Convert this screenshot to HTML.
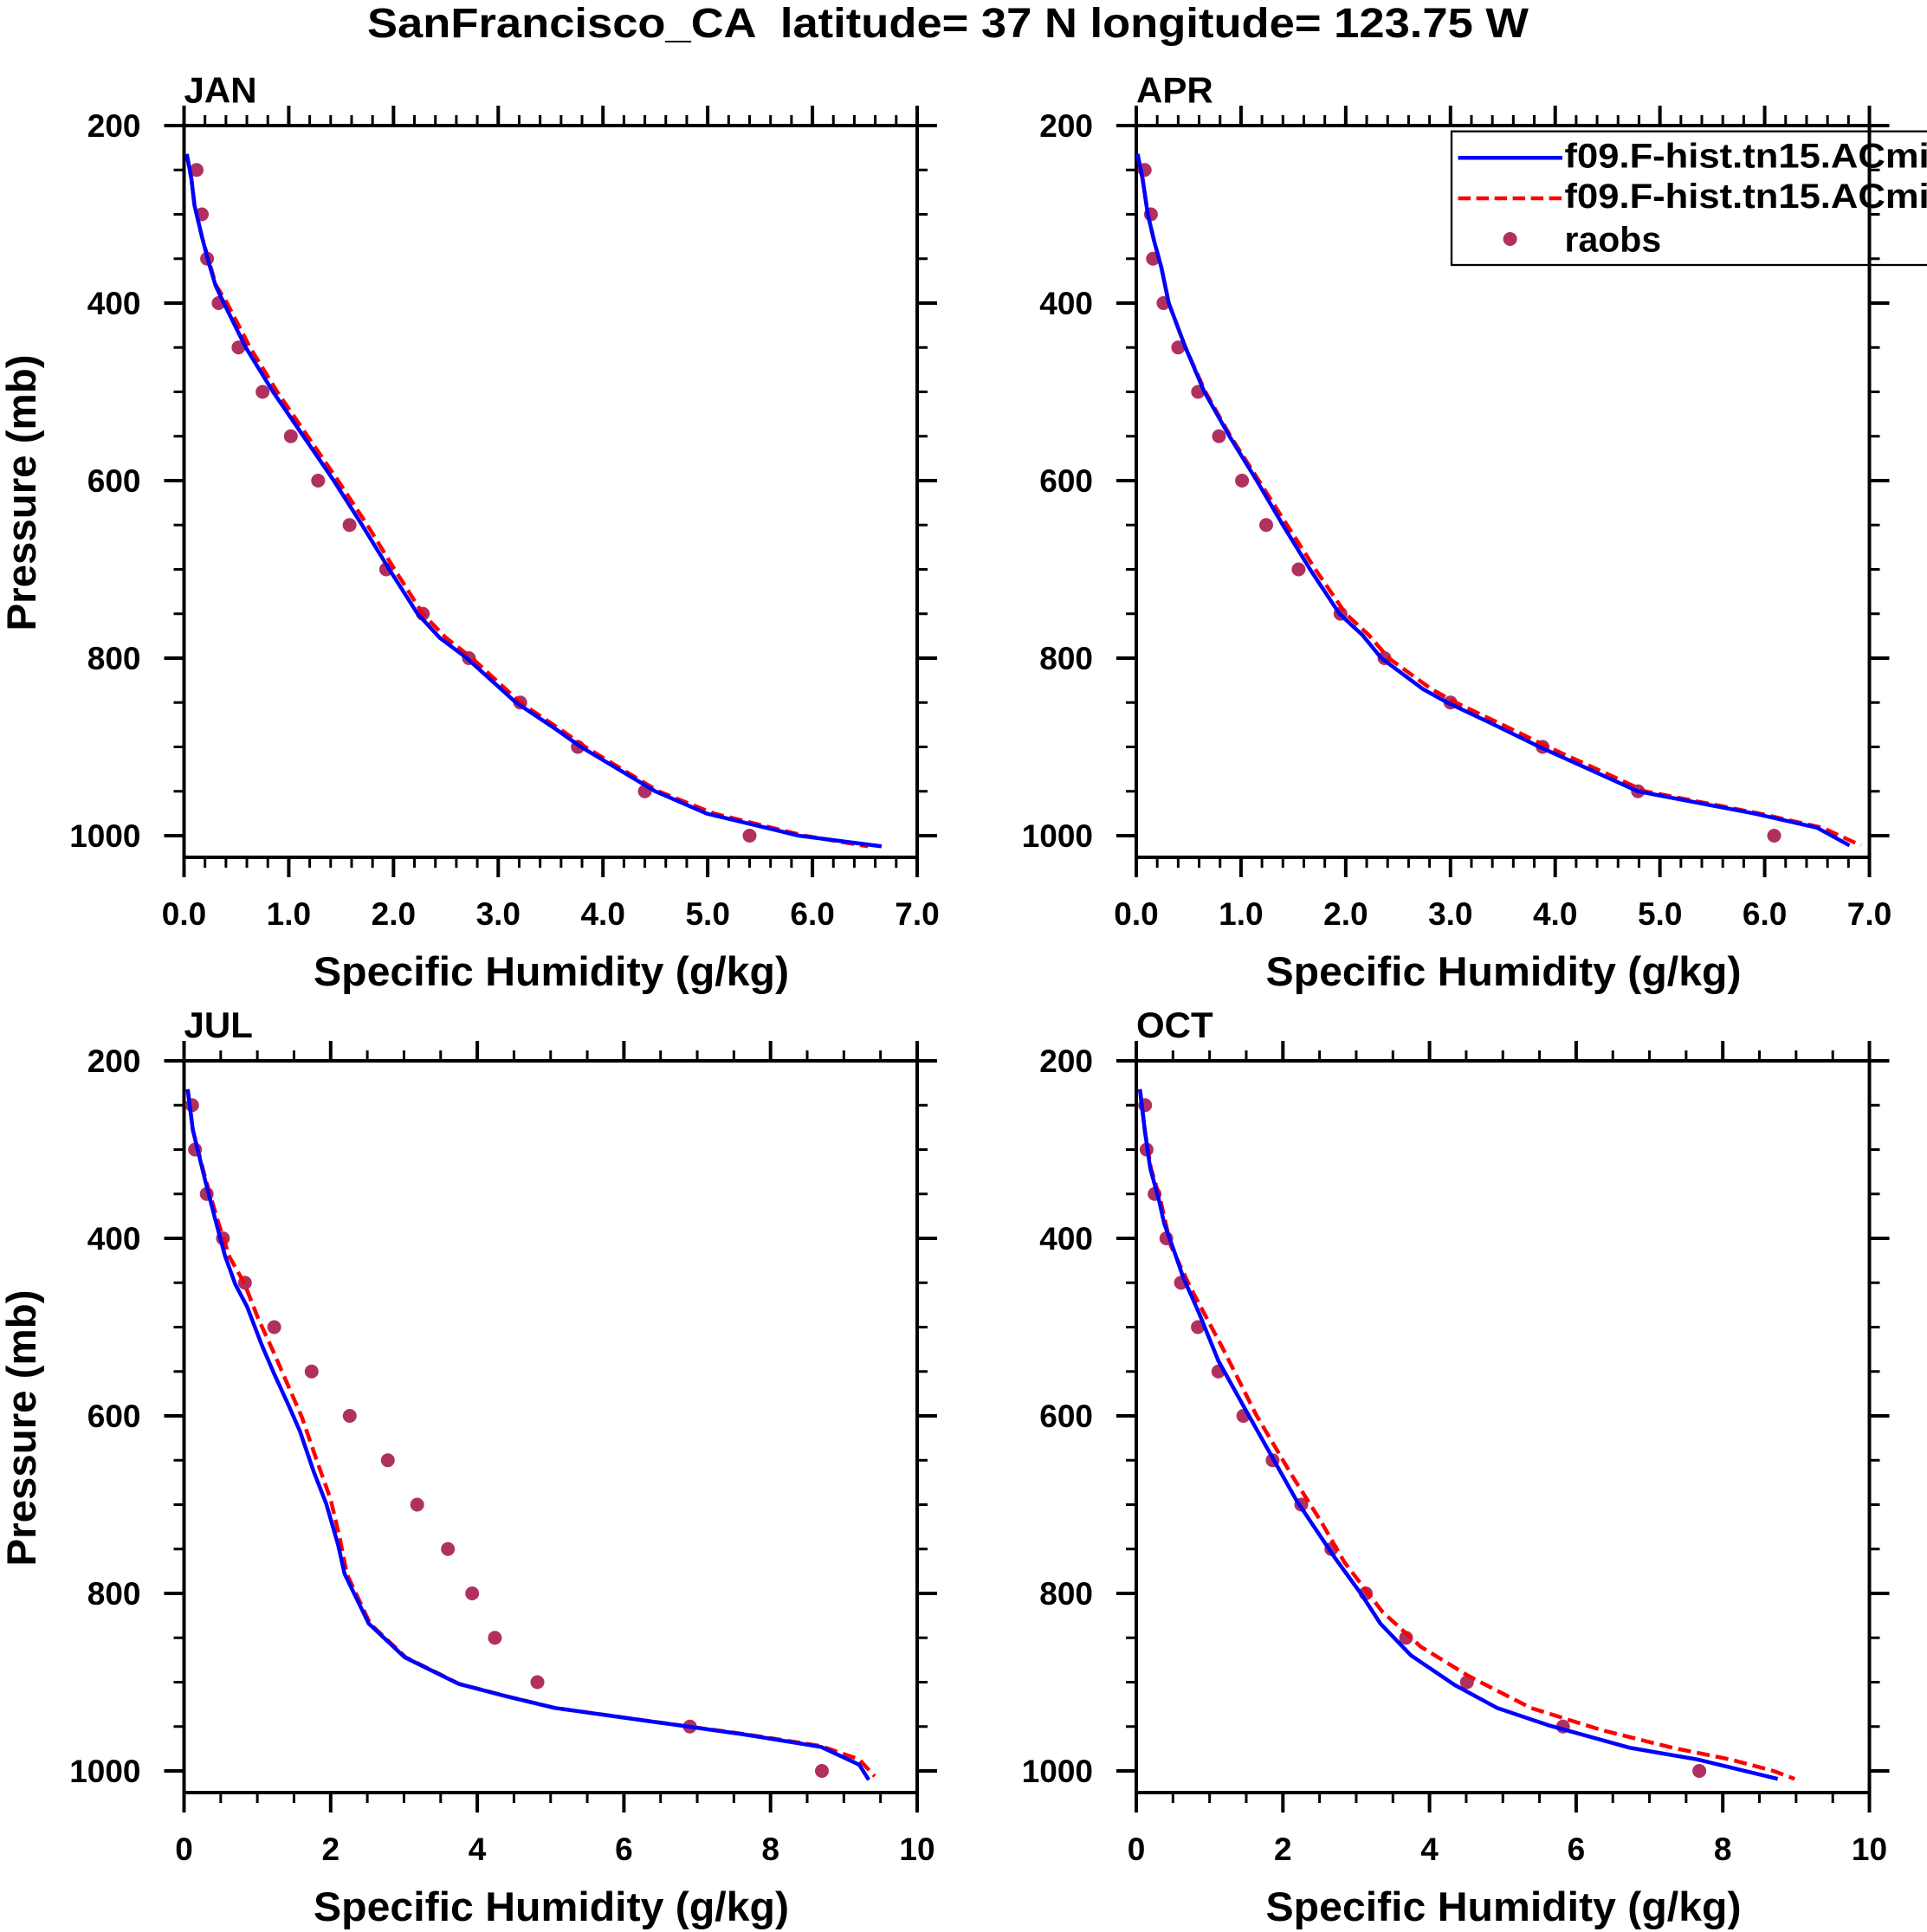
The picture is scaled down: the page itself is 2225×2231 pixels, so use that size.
<!DOCTYPE html>
<html><head><meta charset="utf-8"><style>
html,body{margin:0;padding:0;background:#fff;}
body{width:2225px;height:2231px;overflow:hidden;}
svg{display:block;}
text{font-family:"Liberation Sans",Arial,sans-serif;font-weight:bold;fill:#000;white-space:pre;}
</style></head><body>
<svg width="2225" height="2231" viewBox="0 0 2225 2231" xmlns="http://www.w3.org/2000/svg" xml:space="preserve">
<rect x="0" y="0" width="2225" height="2231" fill="#fff"/>

<text x="424" y="43" font-size="48" textLength="1341" lengthAdjust="spacingAndGlyphs">SanFrancisco_CA  latitude= 37 N longitude= 123.75 W</text>

<!-- Legend -->
<rect x="1676" y="151.7" width="620" height="154.3" fill="none" stroke="#000" stroke-width="2.3"/>
<line x1="1683.6" y1="182.3" x2="1804" y2="182.3" stroke="#0000ff" stroke-width="4.5"/>
<line x1="1683.6" y1="229" x2="1804" y2="229" stroke="#ff0000" stroke-width="4.5" stroke-dasharray="14.5 6.5"/>
<circle cx="1743.6" cy="276" r="8" fill="#b03060"/>
<text x="1806.5" y="193.5" font-size="40" textLength="472" lengthAdjust="spacingAndGlyphs">f09.F-hist.tn15.ACmip6</text>
<text x="1806.5" y="240" font-size="40" textLength="472" lengthAdjust="spacingAndGlyphs">f09.F-hist.tn15.ACmip6</text>
<text x="1806.5" y="290.5" font-size="41">raobs</text>

<!-- ============ JAN ============ -->
<g fill="none" stroke="#000">
<rect x="212.5" y="145" width="846.5" height="845" stroke-width="4"/>
<line x1="211" y1="996" x2="1060.5" y2="996" stroke-width="12" stroke-dasharray="3 21.1857"/>
<line x1="210.5" y1="1001.5" x2="1061" y2="1001.5" stroke-width="23" stroke-dasharray="4 116.9286"/>
<line x1="211" y1="139" x2="1060.5" y2="139" stroke-width="12" stroke-dasharray="3 21.1857"/>
<line x1="210.5" y1="133.5" x2="1061" y2="133.5" stroke-width="23" stroke-dasharray="4 116.9286"/>
<line x1="206.5" y1="143.5" x2="206.5" y2="966.5" stroke-width="12" stroke-dasharray="3 48.25"/>
<line x1="201" y1="143" x2="201" y2="967" stroke-width="23" stroke-dasharray="4 201"/>
<line x1="1065" y1="143.5" x2="1065" y2="966.5" stroke-width="12" stroke-dasharray="3 48.25"/>
<line x1="1070.5" y1="143" x2="1070.5" y2="967" stroke-width="23" stroke-dasharray="4 201"/>
</g>
<g fill="#b03060">
<circle cx="227" cy="196.25" r="8"/><circle cx="233" cy="247.5" r="8"/><circle cx="239.1" cy="298.75" r="8"/><circle cx="252.4" cy="350" r="8"/><circle cx="275.4" cy="401.25" r="8"/><circle cx="303.2" cy="452.5" r="8"/><circle cx="335.8" cy="503.75" r="8"/><circle cx="367.3" cy="555" r="8"/><circle cx="403.6" cy="606.25" r="8"/><circle cx="445.9" cy="657.5" r="8"/><circle cx="488.2" cy="708.75" r="8"/><circle cx="541.4" cy="760" r="8"/><circle cx="600.7" cy="811.25" r="8"/><circle cx="667.2" cy="862.5" r="8"/><circle cx="744.6" cy="913.75" r="8"/><circle cx="865.5" cy="965" r="8"/>
</g>
<polyline fill="none" stroke="#ff0000" stroke-width="4.5" stroke-dasharray="15 7" stroke-linejoin="round" points="215.6,177.8 221,206.5 224.6,237.3 233.1,273.1 241,300.8 249.5,329.5 262.1,350 288.7,401.3 320.1,452.5 355.2,503.8 390.3,555 424.1,606.3 455.6,657.5 488.2,708.8 514.8,736.4 545.1,760 600.7,811.3 646.6,842 675.7,862.5 760.3,913.8 824.4,939.4 928.4,965 1002.2,977.3"/>
<polyline fill="none" stroke="#0000ff" stroke-width="4.5" stroke-linejoin="round" points="215.6,177.8 221,206.5 224.6,237.3 233.1,273.1 240.3,300.8 248.8,329.5 258.5,350 283.8,401.3 315.3,452.5 350.4,503.8 385.4,555 418.1,606.3 449.5,657.5 482.2,708.8 507.6,736.4 539,760 595.8,811.3 641.8,842 670.8,862.5 756.7,913.8 815.9,939.4 922.4,965 1017.9,977.3"/>
<g font-size="37" text-anchor="middle">
<text x="212.5" y="1068">0.0</text><text x="333.4" y="1068">1.0</text><text x="454.4" y="1068">2.0</text><text x="575.3" y="1068">3.0</text><text x="696.2" y="1068">4.0</text><text x="817.2" y="1068">5.0</text><text x="938.1" y="1068">6.0</text><text x="1059" y="1068">7.0</text>
</g>
<g font-size="37" text-anchor="end">
<text x="162.5" y="158">200</text><text x="162.5" y="363">400</text><text x="162.5" y="568">600</text><text x="162.5" y="773">800</text><text x="162.5" y="978">1000</text>
</g>
<text x="212.5" y="118.5" font-size="42">JAN</text>
<text x="362" y="1138" font-size="47" textLength="549" lengthAdjust="spacingAndGlyphs">Specific Humidity (g/kg)</text>
<text transform="translate(41,569) rotate(-90)" x="0" y="0" font-size="47" text-anchor="middle" textLength="319" lengthAdjust="spacingAndGlyphs">Pressure (mb)</text>

<!-- ============ APR ============ -->
<g fill="none" stroke="#000">
<rect x="1312" y="145" width="846.5" height="845" stroke-width="4"/>
<line x1="1310.5" y1="996" x2="2160" y2="996" stroke-width="12" stroke-dasharray="3 21.1857"/>
<line x1="1310" y1="1001.5" x2="2160.5" y2="1001.5" stroke-width="23" stroke-dasharray="4 116.9286"/>
<line x1="1310.5" y1="139" x2="2160" y2="139" stroke-width="12" stroke-dasharray="3 21.1857"/>
<line x1="1310" y1="133.5" x2="2160.5" y2="133.5" stroke-width="23" stroke-dasharray="4 116.9286"/>
<line x1="1306" y1="143.5" x2="1306" y2="966.5" stroke-width="12" stroke-dasharray="3 48.25"/>
<line x1="1300.5" y1="143" x2="1300.5" y2="967" stroke-width="23" stroke-dasharray="4 201"/>
<line x1="2164.5" y1="143.5" x2="2164.5" y2="966.5" stroke-width="12" stroke-dasharray="3 48.25"/>
<line x1="2170" y1="143" x2="2170" y2="967" stroke-width="23" stroke-dasharray="4 201"/>
</g>
<g fill="#b03060">
<circle cx="1321.7" cy="196.25" r="8"/><circle cx="1328.9" cy="247.5" r="8"/><circle cx="1331.3" cy="298.75" r="8"/><circle cx="1343.4" cy="350" r="8"/><circle cx="1360.4" cy="401.25" r="8"/><circle cx="1383.3" cy="452.5" r="8"/><circle cx="1407.5" cy="503.75" r="8"/><circle cx="1434.1" cy="555" r="8"/><circle cx="1462" cy="606.25" r="8"/><circle cx="1499.4" cy="657.5" r="8"/><circle cx="1547.8" cy="708.75" r="8"/><circle cx="1598.6" cy="760" r="8"/><circle cx="1674.8" cy="811.25" r="8"/><circle cx="1781.2" cy="862.5" r="8"/><circle cx="1891.3" cy="913.75" r="8"/><circle cx="2048.5" cy="965" r="8"/>
</g>
<polyline fill="none" stroke="#ff0000" stroke-width="4.5" stroke-dasharray="15 7" stroke-linejoin="round" points="1313.5,177.8 1319.3,206.5 1325.3,247.5 1332.6,278.3 1341,309 1349.5,350 1368.8,401.3 1391.8,452.5 1420.8,503.8 1453.5,555 1486.1,606.3 1518.8,657.5 1553.9,708.8 1580.5,733.4 1603.4,760 1653,795.9 1680.8,811.3 1732.8,835.9 1787.3,862.5 1899.7,913.8 2031.5,939.4 2104.1,955.8 2148.8,976.3"/>
<polyline fill="none" stroke="#0000ff" stroke-width="4.5" stroke-linejoin="round" points="1313.5,177.8 1319.3,206.5 1325.3,247.5 1332.6,278.3 1341,309 1349.5,350 1368.8,401.3 1390.6,452.5 1419.6,503.8 1451.1,555 1481.3,606.3 1512.7,657.5 1546.6,708.8 1573.2,733.4 1595,760 1643.3,795.9 1671.2,811.3 1723.2,835.9 1777.6,862.5 1891.3,913.8 2025.5,939.4 2098,955.8 2135.5,976.3"/>
<g font-size="37" text-anchor="middle">
<text x="1312" y="1068">0.0</text><text x="1432.9" y="1068">1.0</text><text x="1553.9" y="1068">2.0</text><text x="1674.8" y="1068">3.0</text><text x="1795.7" y="1068">4.0</text><text x="1916.7" y="1068">5.0</text><text x="2037.6" y="1068">6.0</text><text x="2158.5" y="1068">7.0</text>
</g>
<g font-size="37" text-anchor="end">
<text x="1262" y="158">200</text><text x="1262" y="363">400</text><text x="1262" y="568">600</text><text x="1262" y="773">800</text><text x="1262" y="978">1000</text>
</g>
<text x="1312" y="118.5" font-size="42">APR</text>
<text x="1461.5" y="1138" font-size="47" textLength="549" lengthAdjust="spacingAndGlyphs">Specific Humidity (g/kg)</text>

<!-- ============ JUL ============ -->
<g fill="none" stroke="#000">
<rect x="212.5" y="1225" width="846.5" height="845" stroke-width="4"/>
<line x1="211" y1="2076" x2="1060.5" y2="2076" stroke-width="12" stroke-dasharray="3 39.325"/>
<line x1="210.5" y1="2081.5" x2="1061" y2="2081.5" stroke-width="23" stroke-dasharray="4 165.3"/>
<line x1="211" y1="1219" x2="1060.5" y2="1219" stroke-width="12" stroke-dasharray="3 39.325"/>
<line x1="210.5" y1="1213.5" x2="1061" y2="1213.5" stroke-width="23" stroke-dasharray="4 165.3"/>
<line x1="206.5" y1="1223.5" x2="206.5" y2="2046.5" stroke-width="12" stroke-dasharray="3 48.25"/>
<line x1="201" y1="1223" x2="201" y2="2047" stroke-width="23" stroke-dasharray="4 201"/>
<line x1="1065" y1="1223.5" x2="1065" y2="2046.5" stroke-width="12" stroke-dasharray="3 48.25"/>
<line x1="1070.5" y1="1223" x2="1070.5" y2="2047" stroke-width="23" stroke-dasharray="4 201"/>
</g>
<g fill="#b03060">
<circle cx="221.8" cy="1276.25" r="8"/><circle cx="225.2" cy="1327.5" r="8"/><circle cx="238.7" cy="1378.75" r="8"/><circle cx="257.4" cy="1430" r="8"/><circle cx="282.8" cy="1481.25" r="8"/><circle cx="316.6" cy="1532.5" r="8"/><circle cx="359.8" cy="1583.75" r="8"/><circle cx="403.8" cy="1635" r="8"/><circle cx="447.8" cy="1686.25" r="8"/><circle cx="481.7" cy="1737.5" r="8"/><circle cx="517.2" cy="1788.75" r="8"/><circle cx="545.2" cy="1840" r="8"/><circle cx="571.4" cy="1891.25" r="8"/><circle cx="620.5" cy="1942.5" r="8"/><circle cx="796.6" cy="1993.75" r="8"/><circle cx="949" cy="2045" r="8"/>
</g>
<polyline fill="none" stroke="#ff0000" stroke-width="4.5" stroke-dasharray="15 7" stroke-linejoin="round" points="216.7,1257.8 222.7,1305 237,1360.3 251.4,1409.5 265,1451.5 281.9,1481.3 298,1522.3 315.8,1561.2 348.8,1637.1 365.7,1686.3 381.8,1731.4 392.8,1778.5 400.5,1817.5 427.3,1874.9 468.5,1913.8 530.5,1944.6 585.5,1958.9 640.5,1972.2 750.5,1987.6 860.5,2002.6 948.1,2016.3 992.1,2031.7 1009.9,2051.2"/>
<polyline fill="none" stroke="#0000ff" stroke-width="4.5" stroke-linejoin="round" points="216.7,1257.8 222.7,1305 236.2,1360.3 248.9,1409.5 259.9,1450.5 271.8,1483.3 285.3,1508.9 302.2,1553 315.8,1584.8 332.7,1621.7 346.2,1652.4 362.3,1699.6 376.7,1736.5 390.3,1783.6 397.9,1817.5 425.8,1874.9 467.3,1913.8 529.9,1944.6 585,1958.9 640,1972.2 750,1987.6 860.1,2003 948.1,2017.3 992.1,2037.8 1003.1,2055.3"/>
<g font-size="37" text-anchor="middle">
<text x="212.5" y="2148">0</text><text x="381.8" y="2148">2</text><text x="551.1" y="2148">4</text><text x="720.4" y="2148">6</text><text x="889.7" y="2148">8</text><text x="1059" y="2148">10</text>
</g>
<g font-size="37" text-anchor="end">
<text x="162.5" y="1238">200</text><text x="162.5" y="1443">400</text><text x="162.5" y="1648">600</text><text x="162.5" y="1853">800</text><text x="162.5" y="2058">1000</text>
</g>
<text x="212.5" y="1198" font-size="42">JUL</text>
<text x="362" y="2218" font-size="47" textLength="549" lengthAdjust="spacingAndGlyphs">Specific Humidity (g/kg)</text>
<text transform="translate(41,1649) rotate(-90)" x="0" y="0" font-size="47" text-anchor="middle" textLength="319" lengthAdjust="spacingAndGlyphs">Pressure (mb)</text>

<!-- ============ OCT ============ -->
<g fill="none" stroke="#000">
<rect x="1312" y="1225" width="846.5" height="845" stroke-width="4"/>
<line x1="1310.5" y1="2076" x2="2160" y2="2076" stroke-width="12" stroke-dasharray="3 39.325"/>
<line x1="1310" y1="2081.5" x2="2160.5" y2="2081.5" stroke-width="23" stroke-dasharray="4 165.3"/>
<line x1="1310.5" y1="1219" x2="2160" y2="1219" stroke-width="12" stroke-dasharray="3 39.325"/>
<line x1="1310" y1="1213.5" x2="2160.5" y2="1213.5" stroke-width="23" stroke-dasharray="4 165.3"/>
<line x1="1306" y1="1223.5" x2="1306" y2="2046.5" stroke-width="12" stroke-dasharray="3 48.25"/>
<line x1="1300.5" y1="1223" x2="1300.5" y2="2047" stroke-width="23" stroke-dasharray="4 201"/>
<line x1="2164.5" y1="1223.5" x2="2164.5" y2="2046.5" stroke-width="12" stroke-dasharray="3 48.25"/>
<line x1="2170" y1="1223" x2="2170" y2="2047" stroke-width="23" stroke-dasharray="4 201"/>
</g>
<g fill="#b03060">
<circle cx="1322.2" cy="1276.25" r="8"/><circle cx="1323.9" cy="1327.5" r="8"/><circle cx="1333.2" cy="1378.75" r="8"/><circle cx="1346.7" cy="1430" r="8"/><circle cx="1363.6" cy="1481.25" r="8"/><circle cx="1383.1" cy="1532.5" r="8"/><circle cx="1406.8" cy="1583.75" r="8"/><circle cx="1435.6" cy="1635" r="8"/><circle cx="1469.4" cy="1686.25" r="8"/><circle cx="1502.5" cy="1737.5" r="8"/><circle cx="1537.2" cy="1788.75" r="8"/><circle cx="1577" cy="1840" r="8"/><circle cx="1623.5" cy="1891.25" r="8"/><circle cx="1693.8" cy="1942.5" r="8"/><circle cx="1804.7" cy="1993.75" r="8"/><circle cx="1962.1" cy="2045" r="8"/>
</g>
<polyline fill="none" stroke="#ff0000" stroke-width="4.5" stroke-dasharray="15 7" stroke-linejoin="round" points="1316.2,1257.8 1322.2,1308 1328.9,1349 1339.9,1385.9 1351.8,1438.2 1373.8,1485.4 1412.7,1558.6 1450.8,1634.5 1492.3,1704.7 1525.3,1757 1552.4,1804.1 1596.4,1861.5 1640.4,1901.5 1695.5,1935.3 1767.4,1972.2 1849.5,1997.9 1931.6,2018.4 1997.7,2031.7 2047.6,2045 2072.2,2054.2"/>
<polyline fill="none" stroke="#0000ff" stroke-width="4.5" stroke-linejoin="round" points="1316.2,1257.8 1322.2,1308 1328.1,1349 1338.2,1385.9 1344.2,1412.6 1355.2,1443.3 1366.2,1475.1 1384.8,1517.1 1406.8,1571.5 1434.7,1621.7 1465.2,1676 1497.4,1733.4 1541.4,1799 1571.9,1841 1593.9,1874.9 1629.4,1911.8 1679.4,1945.6 1728.5,1972.2 1789.4,1992.7 1882.5,2018.4 1959.6,2031.7 2052.7,2054.2"/>
<g font-size="37" text-anchor="middle">
<text x="1312" y="2148">0</text><text x="1481.3" y="2148">2</text><text x="1650.6" y="2148">4</text><text x="1819.9" y="2148">6</text><text x="1989.2" y="2148">8</text><text x="2158.5" y="2148">10</text>
</g>
<g font-size="37" text-anchor="end">
<text x="1262" y="1238">200</text><text x="1262" y="1443">400</text><text x="1262" y="1648">600</text><text x="1262" y="1853">800</text><text x="1262" y="2058">1000</text>
</g>
<text x="1312" y="1198" font-size="42">OCT</text>
<text x="1461.5" y="2218" font-size="47" textLength="549" lengthAdjust="spacingAndGlyphs">Specific Humidity (g/kg)</text>
</svg>
</body></html>
